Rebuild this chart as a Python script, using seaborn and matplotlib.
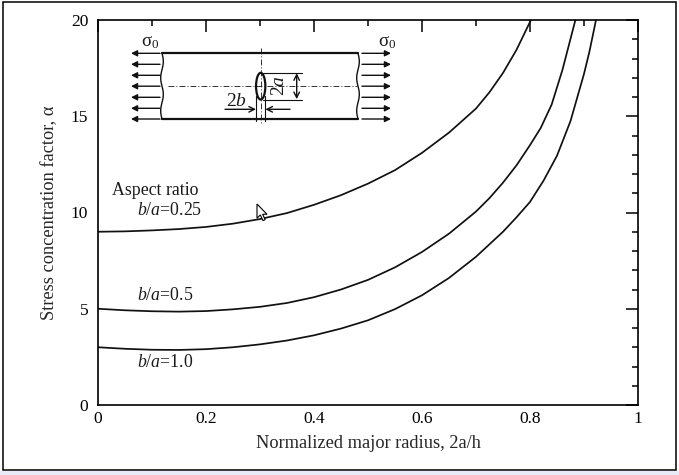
import numpy as np
import pandas as pd
import matplotlib
matplotlib.use("Agg")
import matplotlib.pyplot as plt
import seaborn as sns
from matplotlib.patches import Ellipse, Rectangle, Polygon
from matplotlib.ticker import MultipleLocator

# ---------------- data ----------------
x_ratio_025 = [0, 0.05, 0.1, 0.15, 0.2, 0.25, 0.3, 0.35, 0.4, 0.45, 0.5, 0.55, 0.6,
               0.65, 0.7, 0.725, 0.75, 0.775, 0.8, 0.81]
y_ratio_025 = [9.0, 9.02, 9.07, 9.14, 9.25, 9.42, 9.66, 9.97, 10.4, 10.9, 11.5, 12.2, 13.1,
               14.15, 15.4, 16.25, 17.25, 18.45, 19.9, 20.6]

x_ratio_05 = [0, 0.05, 0.1, 0.15, 0.2, 0.25, 0.3, 0.35, 0.4, 0.45, 0.5, 0.55, 0.6,
              0.65, 0.7, 0.725, 0.75, 0.775, 0.8, 0.82, 0.84, 0.86, 0.885]
y_ratio_05 = [5.0, 4.92, 4.87, 4.85, 4.88, 4.97, 5.1, 5.3, 5.6, 6.0, 6.5, 7.15, 7.95,
              8.9, 10.05, 10.75, 11.55, 12.45, 13.5, 14.4, 15.6, 17.4, 20.1]

x_ratio_10 = [0, 0.05, 0.1, 0.15, 0.2, 0.25, 0.3, 0.35, 0.4, 0.45, 0.5, 0.55, 0.6,
              0.65, 0.7, 0.75, 0.775, 0.8, 0.825, 0.85, 0.875, 0.9, 0.91, 0.92, 0.925]
y_ratio_10 = [3.0, 2.92, 2.87, 2.86, 2.9, 3.0, 3.15, 3.35, 3.62, 3.97, 4.4, 4.98, 5.7,
              6.6, 7.7, 9.0, 9.75, 10.55, 11.65, 12.95, 14.75, 17.2, 18.35, 19.7, 20.4]

curve_names = ["b/a=0.25", "b/a=0.5", "b/a=1.0"]
curve_labels = [r"$b/a$=0.25", r"$b/a$=0.5", r"$b/a$=1.0"]
label_y = [10.1, 5.7, 2.2]

x_ticks = [0, 0.2, 0.4, 0.6, 0.8, 1]
x_tick_labels = ["0", "0.2", "0.4", "0.6", "0.8", "1"]
y_ticks = [0, 5, 10, 15, 20]
y_tick_labels = ["0", "5", "10", "15", "20"]

x_label = "Normalized major radius, 2a/h"
y_label = "Stress concentration factor, α"
legend_title = "Aspect ratio"

# ---------------- style ----------------
sns.set_theme(style="white")
plt.rcParams.update({
    "font.family": ["Liberation Serif", "DejaVu Serif"],
    "mathtext.fontset": "custom",
    "mathtext.rm": "Liberation Serif",
    "mathtext.it": "Liberation Serif:italic",
    "mathtext.bf": "Liberation Serif:bold",
    "axes.edgecolor": "black",
    "text.color": "#1a1a1a",
    "xtick.color": "black",
    "ytick.color": "black",
})

W, H = 679, 475
fig = plt.figure(figsize=(W / 100, H / 100), dpi=100)
fig.patch.set_facecolor("white")

ax = fig.add_axes([98 / W, (H - 405) / H, 540 / W, 385 / H])

frames = []
for name, xs, ys in [(curve_names[0], x_ratio_025, y_ratio_025),
                     (curve_names[1], x_ratio_05, y_ratio_05),
                     (curve_names[2], x_ratio_10, y_ratio_10)]:
    frames.append(pd.DataFrame({"x": xs, "y": ys, "curve": name}))
df = pd.concat(frames, ignore_index=True)

for name in curve_names:
    sub = df[df["curve"] == name]
    sns.lineplot(data=sub, x="x", y="y", ax=ax, color="#111111", lw=1.25,
                 sort=False, estimator=None, legend=False)

ax.set_xlim(0, 1)
ax.set_ylim(0, 20)
ax.set_xticks(x_ticks)
ax.set_xticklabels(x_tick_labels)
ax.set_yticks(y_ticks)
ax.set_yticklabels(y_tick_labels)
ax.xaxis.set_minor_locator(MultipleLocator(0.1))
ax.yaxis.set_minor_locator(MultipleLocator(1))
ax.tick_params(which="both", direction="in", top=True, right=True,
               labelsize=12.5, width=1.1)
ax.tick_params(axis="x", pad=4)
ax.tick_params(axis="y", pad=7)
ax.tick_params(which="major", length=8.3)
ax.tick_params(which="minor", length=4.2)
for s in ax.spines.values():
    s.set_linewidth(1.2)
    s.set_color("black")
ax.set_xlabel(x_label, fontsize=13.2, labelpad=6)
ax.set_ylabel(y_label, fontsize=13.2, labelpad=9)

ax.text(0.026, 11.15, legend_title, fontsize=12.8, va="center", ha="left")
for lab, yy in zip(curve_labels, label_y):
    ax.text(0.072, yy, lab, fontsize=12.8, va="center", ha="left")

# ---------------- overlay (pixel coordinates) for the inset sketch ----------------
ov = fig.add_axes([0, 0, 1, 1], zorder=5)
ov.set_xlim(0, W)
ov.set_ylim(H, 0)
ov.axis("off")
ov.patch.set_alpha(0)

k = "#111111"
# plate
ov.plot([162, 358], [53.3, 53.3], color=k, lw=1.6)
ov.plot([162, 358], [119, 119], color=k, lw=1.6)
yy = np.linspace(53.3, 119, 60)
wave = 1.3 * np.sin((yy - 53.3) / 65.7 * 2 * np.pi * 2.0)
ov.plot(162 + wave, yy, color=k, lw=1.0)
ov.plot(358 + wave, yy, color=k, lw=1.0)

arrow_rows = [53.3, 64.3, 75.3, 86.2, 97.3, 108.3, 119]
for ya in arrow_rows:
    ov.annotate("", xy=(131, ya), xytext=(160, ya),
                arrowprops=dict(arrowstyle="-|>", color=k, lw=1.0,
                                mutation_scale=9, shrinkA=0, shrinkB=0))
    ov.annotate("", xy=(391, ya), xytext=(362, ya),
                arrowprops=dict(arrowstyle="-|>", color=k, lw=1.0,
                                mutation_scale=9, shrinkA=0, shrinkB=0))

ov.text(150, 42, r"σ$_0$", fontsize=13.5, ha="center", va="center")
ov.text(387, 42, r"σ$_0$", fontsize=13.5, ha="center", va="center")

# centre lines
ov.plot([168, 357], [86.2, 86.2], color=k, lw=0.6, ls=(0, (7, 2.5, 1.2, 2.5)))
ov.plot([261, 261], [48, 125], color=k, lw=0.6, ls=(0, (7, 2.5, 1.2, 2.5)))

# hole
ov.add_patch(Ellipse((260.7, 86.2), 9.3, 26.7, fill=False, ec=k, lw=1.6))

# 2a dimension
ov.plot([263, 302], [72.9, 72.9], color=k, lw=0.8)
ov.plot([263, 302], [99.5, 99.5], color=k, lw=0.8)
ov.annotate("", xy=(296.7, 73.2), xytext=(296.7, 99.2),
            arrowprops=dict(arrowstyle="<->", color=k, lw=1.0,
                            mutation_scale=10, shrinkA=0, shrinkB=0))
ov.text(279.5, 86, r"$\mathbf{\mathit{2a}}$", fontsize=14, rotation=90,
        ha="center", va="center")

# 2b dimension
ov.plot([256, 256], [96, 121], color=k, lw=0.8)
ov.plot([265.4, 265.4], [96, 121], color=k, lw=0.8)
ov.annotate("", xy=(256, 109.3), xytext=(225, 109.3),
            arrowprops=dict(arrowstyle="->", color=k, lw=1.0,
                            mutation_scale=10, shrinkA=0, shrinkB=0))
ov.annotate("", xy=(265.4, 109.3), xytext=(290, 109.3),
            arrowprops=dict(arrowstyle="->", color=k, lw=1.0,
                            mutation_scale=10, shrinkA=0, shrinkB=0))
ov.text(236, 101, r"$\mathbf{\mathit{2b}}$", fontsize=14, ha="center", va="center")

# mouse pointer present in the reference picture
cur = np.array([[0, 0], [0, 15], [3.5, 11.5], [6.3, 17.5], [8.6, 16.5],
                [5.9, 10.8], [10.5, 10.8]]) * 0.95 + np.array([257, 204])
ov.add_patch(Polygon(cur, closed=True, fc="white", ec="black", lw=0.8))

# figure border + bottom strip
ov.add_patch(Rectangle((0, 471), W, 4, fc="#e9ecf6", ec="none"))
ov.add_patch(Rectangle((3, 2), 673, 468, fill=False, ec="black", lw=1.1))

fig.savefig("out.png", dpi=100)
